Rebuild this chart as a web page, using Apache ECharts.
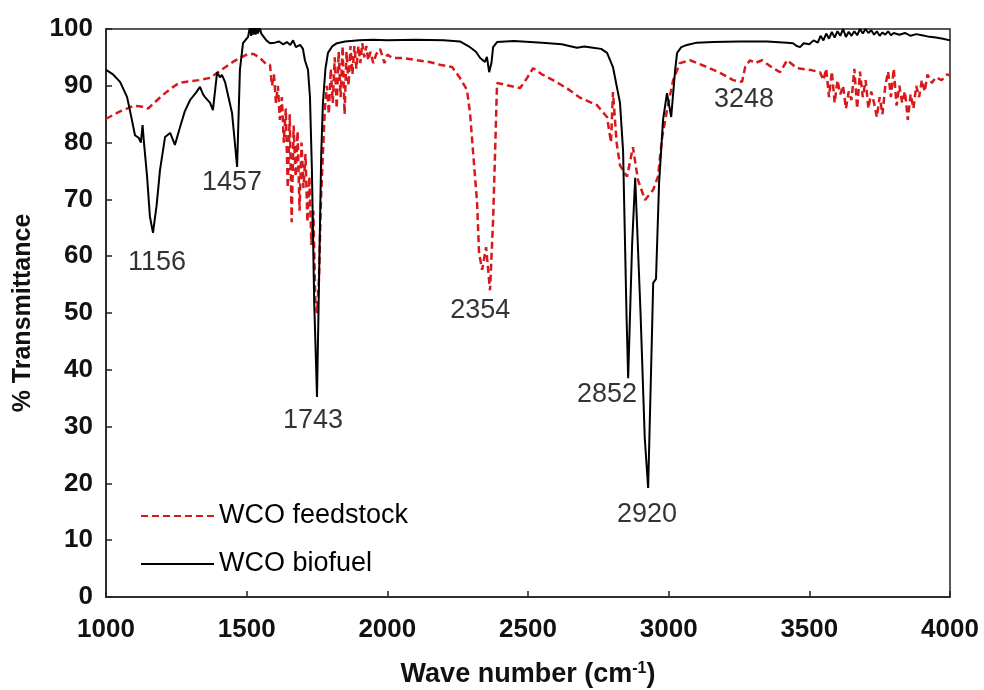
<!DOCTYPE html>
<html>
<head>
<meta charset="utf-8">
<script src="https://cdn.jsdelivr.net/npm/echarts@6/dist/echarts.min.js"></script>
<style>
html,body{margin:0;padding:0;background:#fff;}
#chart{width:984px;height:690px;}
</style>
</head>
<body>
<div id="chart"></div>
<script>
// ---- Data ----
const xTicks = [1000, 1500, 2000, 2500, 3000, 3500, 4000];
const yTicks = [0, 10, 20, 30, 40, 50, 60, 70, 80, 90, 100];

const biofuelWave = [
 1000,1025,1050,1075,1092,1103,1110,1117,1124,1130,1135,1146,1156,1167,1180,1192,1210,1228,1245,1263,1280,1299,1320,1334,1345,1352,1370,1380,1395,1405,1412,1423,1448,1458,1466,1476,1487,1505,1512,1516,1520,1524,1528,1532,1536,1540,1546,1552,1558,1570,1583,1600,1615,1630,1643,1655,1665,1675,1690,1700,1707,1718,1725,1732,1740,1750,1757,1765,1771,1780,1789,1805,1821,1850,1900,1950,2000,2100,2200,2258,2294,2315,2330,2347,2354,2362,2370,2376,2390,2450,2550,2620,2674,2700,2731,2760,2781,2802,2815,2827,2838,2850,2856,2870,2881,2900,2915,2927,2940,2945,2955,2966,2975,2980,2994,3009,3023,3030,3045,3065,3100,3158,3250,3350,3420,3442,3455,3467,3480,3500,3515,3530,3540,3550,3560,3570,3580,3590,3600,3610,3620,3630,3640,3650,3660,3670,3680,3690,3700,3710,3720,3730,3740,3750,3760,3770,3780,3790,3800,3820,3840,3860,3880,3900,3920,3950,3975,4000
];
const biofuelT = [
 92.8,92.0,90.7,88.0,84.0,81.3,81.5,80.8,80.0,83.1,80.0,74.0,67.0,64.1,69.0,75.2,81.0,81.7,79.6,82.7,85.5,87.5,88.8,89.8,88.5,88.0,87.0,85.7,92.4,91.5,91.9,90.7,85.2,80.0,75.7,92.8,97.5,98.6,100.5,98.8,100.5,99.0,100.5,99.0,100.5,99.2,100.3,99.2,99.0,98.0,97.5,97.6,97.8,97.3,97.7,97.2,98.0,96.8,97.2,96.5,94.5,92.8,88.0,75.0,52.0,35.2,55.0,78.0,87.0,93.0,95.8,97.0,97.5,97.8,98.0,98.1,98.0,98.1,98.0,97.8,96.8,96.0,94.9,94.2,95.1,92.4,94.0,96.8,97.7,97.9,97.6,97.3,96.7,96.9,96.7,96.5,95.8,93.3,90.0,87.0,78.5,50.0,38.5,62.0,73.8,50.0,28.0,19.2,45.0,55.3,56.0,73.0,80.0,84.0,88.7,84.5,92.8,95.8,96.8,97.2,97.6,97.7,97.8,97.8,97.6,97.5,97.0,96.8,97.5,97.3,98.0,97.6,98.8,98.0,99.2,98.3,99.5,98.5,99.6,98.8,100.0,98.6,99.5,98.8,99.6,98.9,100.0,99.2,100.0,99.3,99.8,99.0,99.6,98.8,99.4,99.0,99.6,98.9,99.3,99.0,99.3,98.8,99.1,98.9,98.7,98.5,98.3,98.0
];

const feedstockWave = [
 1000,1050,1100,1130,1150,1167,1200,1230,1260,1299,1330,1370,1410,1451,1480,1505,1525,1547,1570,1583,
 1590,1597,1604,1611,1618,1625,1632,1639,1646,1653,1660,1667,1674,1681,1688,1695,1702,1709,1716,1723,1730,1737,1744,1750,1757,1764,1771,1778,1785,1792,1799,1806,1813,1820,1827,1834,1841,1848,1855,1862,1869,1876,1883,1890,1897,1904,1911,1918,1925,1932,1940,1950,1960,1974,1990,2000,
 2017,2056,2106,2150,2187,2230,2258,2283,2294,2305,2319,2326,2337,2351,2365,2376,2383,2390,2426,2472,2497,2518,2550,2589,2640,2685,2745,2781,2795,2802,2815,2827,2852,2873,2891,2916,2945,2962,2977,2994,3016,3040,3076,3136,3182,3229,3261,3272,3289,3307,3332,3371,3396,3421,3456,3503,3538,
 3550,3560,3570,3580,3590,3600,3610,3620,3630,3640,3650,3660,3670,3680,3690,3700,3710,3720,3730,3740,3750,3760,3770,3780,3790,3800,3810,3820,3830,3840,3850,3860,3870,3880,3890,3900,3910,3920,3935,3950,3970,3990,4000
];
const feedstockT = [
 84.2,85.5,86.5,86.3,86.0,86.8,88.3,89.5,90.5,90.8,91.0,91.4,92.8,94.2,95.0,95.6,95.6,94.9,93.8,93.7,
 90.0,92.0,87.0,90.0,84.0,88.0,80.0,86.0,72.0,85.0,66.0,83.0,74.0,82.0,68.0,80.0,72.0,78.0,66.0,74.0,62.0,68.0,52.0,50.0,56.0,70.0,78.0,86.0,90.0,85.0,93.0,87.0,95.0,86.0,96.0,88.0,97.0,85.0,96.0,90.0,97.0,92.0,97.0,93.0,97.0,94.0,97.5,95.0,97.0,94.5,96.0,94.0,95.5,96.5,94.0,95.5,
 94.9,94.9,94.5,94.2,93.7,93.3,91.4,89.3,85.2,78.2,69.4,60.6,57.6,61.6,54.0,66.4,78.2,90.5,90.1,89.6,91.4,93.1,92.0,91.0,89.5,87.9,86.6,84.5,80.0,88.9,80.0,76.0,74.0,79.2,73.4,69.9,71.7,74.0,81.0,85.7,91.0,94.0,94.5,93.3,92.3,91.0,90.7,93.3,94.5,94.0,94.5,93.1,92.4,94.5,93.1,92.8,92.4,
 91.0,93.0,88.0,92.5,87.0,91.0,88.5,90.0,86.0,89.0,87.5,93.0,86.0,92.5,88.0,91.0,86.0,89.0,87.0,84.5,88.0,85.0,90.0,92.5,88.0,93.0,86.5,90.0,87.0,89.0,84.0,88.5,86.0,90.0,88.0,91.0,89.0,92.0,90.5,91.5,91.0,92.0,91.8
];

// peak annotations: text, and the wave number / transmittance where the text sits
const peakLabels = ['1156', '1457', '1743', '2354', '2852', '2920', '3248'];
const peakLabelX = [1181, 1448, 1736, 2330, 2781, 2923, 3268];
const peakLabelY = [58.8, 72.9, 31.0, 50.4, 35.6, 14.6, 87.5];

const seriesNames = ['WCO feedstock', 'WCO biofuel'];

// ---- Build ----
const zip = (a, b) => a.map((v, i) => [v, b[i]]);
const annData = peakLabels.map((t, i) => [peakLabelX[i], peakLabelY[i], t]);

const chart = echarts.init(document.getElementById('chart'), null, {renderer: 'canvas'});
const font = "'Liberation Sans', Arial, sans-serif";
chart.setOption({
  animation: false,
  backgroundColor: '#ffffff',
  textStyle: {fontFamily: font},
  grid: {left: 106, right: 34, top: 29, bottom: 93, show: true, borderColor: '#222', borderWidth: 1.5,
    backgroundColor: 'transparent', containLabel: false, outerBoundsMode: 'none'},
  legend: {
    data: seriesNames,
    orient: 'vertical',
    left: 135, top: 496,
    itemWidth: 73, itemHeight: 14, itemGap: 18,
    itemStyle: {opacity: 0},
    textStyle: {fontSize: 27, color: '#000', fontFamily: font, lineHeight: 30},
    selectedMode: false
  },
  xAxis: {
    type: 'value', min: xTicks[0], max: xTicks[xTicks.length - 1], interval: 500,
    axisLine: {show: true, lineStyle: {color: '#222', width: 1.5}},
    axisTick: {show: true, inside: true, length: 6, lineStyle: {color: '#222', width: 1.5}},
    splitLine: {show: false},
    axisLabel: {fontSize: 26, fontWeight: 'bold', color: '#111', margin: 20, fontFamily: font,
      formatter: v => String(v)},
    name: 'Wave number (cm{sup|-1})',
    nameLocation: 'middle', nameGap: 64,
    nameTextStyle: {fontSize: 27, fontWeight: 'bold', color: '#111', fontFamily: font,
      rich: {sup: {fontSize: 16, fontWeight: 'bold', color: '#111', verticalAlign: 'top', padding: [0, 0, 12, 0], fontFamily: font}}}
  },
  yAxis: {
    type: 'value', min: yTicks[0], max: yTicks[yTicks.length - 1], interval: 10,
    axisLine: {show: true, lineStyle: {color: '#222', width: 1.5}},
    axisTick: {show: true, inside: true, length: 6, lineStyle: {color: '#222', width: 1.5}},
    splitLine: {show: false},
    axisLabel: {fontSize: 26, fontWeight: 'bold', color: '#111', margin: 13, fontFamily: font,
      formatter: v => String(v)},
    name: '% Transmittance',
    nameLocation: 'middle', nameGap: 70,
    nameTextStyle: {fontSize: 25, fontWeight: 'bold', color: '#111', fontFamily: font}
  },
  series: [
    {
      name: seriesNames[0], type: 'line', data: zip(feedstockWave, feedstockT),
      symbol: 'none', showSymbol: false, clip: true, z: 2,
      lineStyle: {color: '#d7191c', width: 2.5, type: [7, 4]},
      itemStyle: {color: '#d7191c'}
    },
    {
      name: seriesNames[1], type: 'line', data: zip(biofuelWave, biofuelT),
      symbol: 'none', showSymbol: false, clip: true, z: 3,
      lineStyle: {color: '#000000', width: 2},
      itemStyle: {color: '#000000'}
    },
    {
      name: 'labels', type: 'scatter', data: annData, symbolSize: 0, silent: true, z: 5,
      label: {show: true, position: 'inside', formatter: p => p.value[2],
        fontSize: 27, color: '#000', fontFamily: font}
    }
  ]
});
</script>
</body>
</html>
